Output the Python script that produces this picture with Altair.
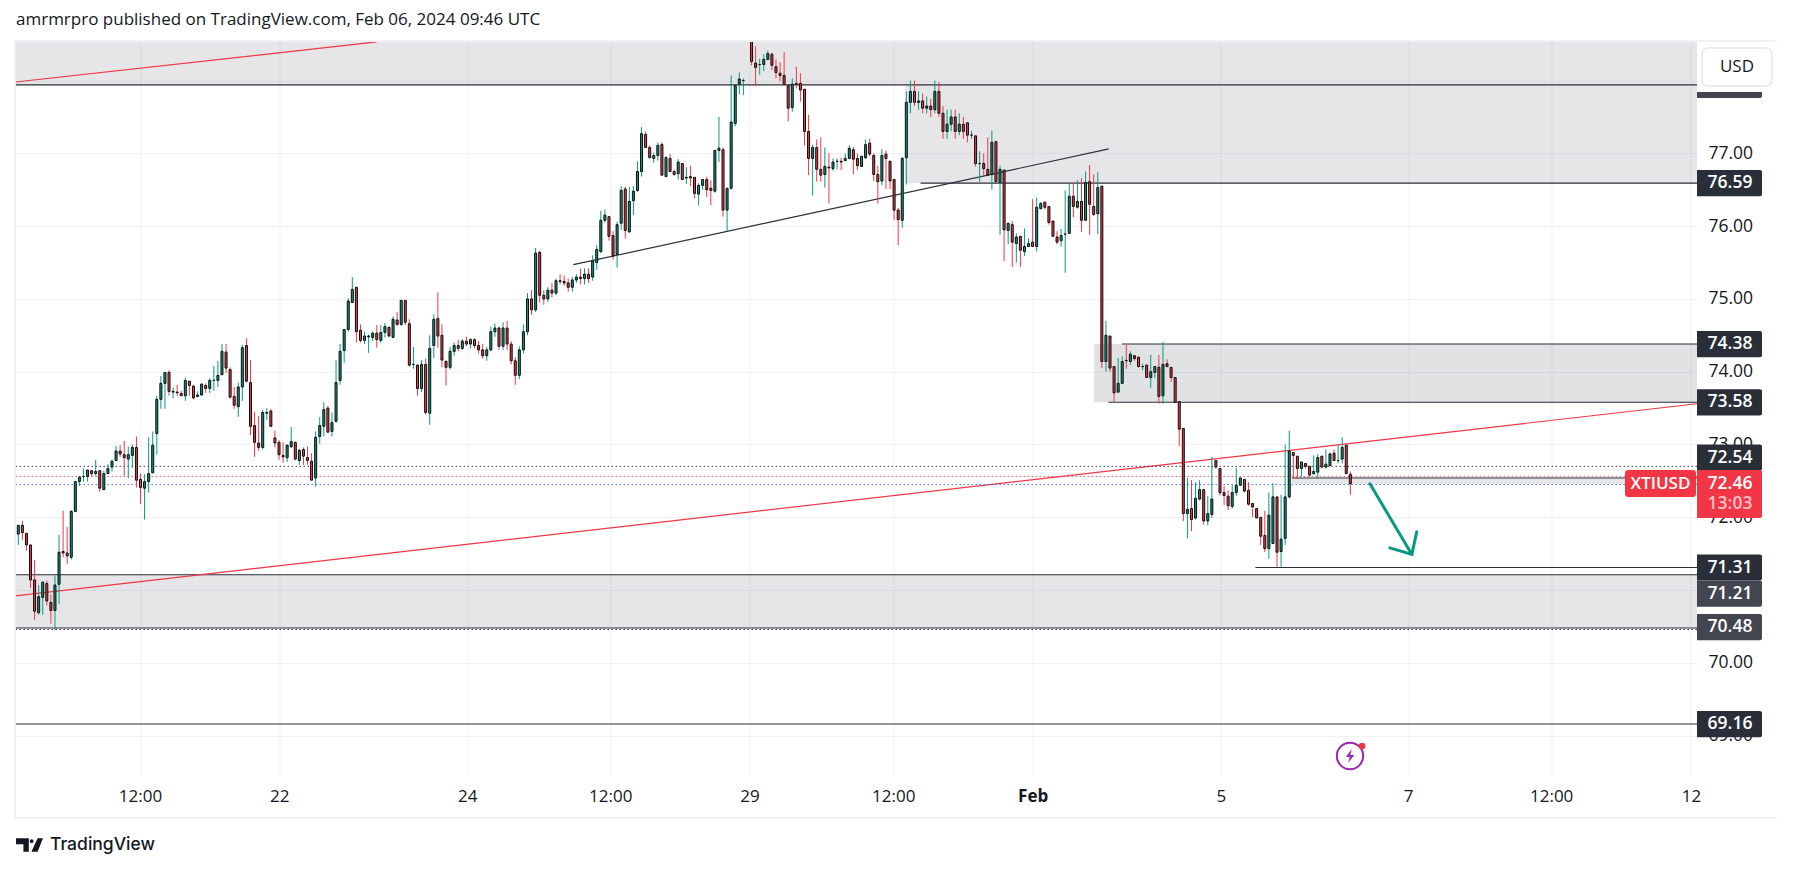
import altair as alt
import pandas as pd

opens = [71.77,71.89,71.78,71.62,71.14,70.69,70.90,71.09,70.83,70.72,71.08,71.53,71.51,71.45,72.08,72.49,72.56,72.56,72.64,72.60,
72.64,72.38,72.60,72.69,72.78,72.91,72.86,72.80,72.85,72.96,72.52,72.40,72.49,72.61,73.15,73.62,73.84,73.99,73.72,73.72,
73.70,73.67,73.87,73.80,73.66,73.68,73.81,73.77,73.88,73.88,73.96,74.27,74.03,73.66,73.52,73.79,74.36,73.85,73.26,73.02,
72.96,73.43,73.46,73.09,73.03,72.85,72.82,72.97,73.03,72.78,72.93,72.82,72.77,72.54,73.11,73.25,73.50,73.18,73.32,73.88,
74.29,74.58,74.95,75.16,74.57,74.43,74.48,74.47,74.53,74.43,74.54,74.61,74.47,74.71,74.65,74.98,74.66,74.10,74.09,73.77,
74.10,73.43,74.36,74.73,74.50,74.14,74.06,74.28,74.36,74.32,74.42,74.38,74.44,74.36,74.30,74.22,74.30,74.55,74.60,74.35,
74.60,74.38,74.15,73.95,74.30,74.55,75.00,74.85,75.64,75.05,75.00,75.12,75.08,75.25,75.24,75.22,75.16,75.26,75.30,75.28,
75.34,75.30,75.50,75.65,76.08,76.13,75.87,75.61,76.04,76.51,75.92,76.35,76.49,76.75,77.26,77.08,76.93,76.97,77.12,76.68,
76.93,76.75,76.72,76.86,76.66,76.68,76.67,76.44,76.56,76.64,76.52,76.48,77.04,77.05,76.22,76.52,77.41,77.95,78.00,78.60,
78.60,78.24,78.22,78.22,78.29,78.36,78.19,78.10,78.07,77.93,77.63,77.96,77.96,77.88,77.30,76.93,77.08,76.78,76.71,76.81,
76.79,76.89,76.89,76.90,76.93,77.05,76.93,76.82,76.94,77.14,76.97,76.71,76.62,76.99,76.89,76.64,76.22,76.08,76.94,77.70,
77.85,77.70,77.72,77.62,77.65,77.60,77.85,77.55,77.30,77.40,77.50,77.30,77.40,77.42,77.25,77.24,76.86,76.86,76.78,76.71,
77.16,76.60,76.77,75.94,76.02,75.76,75.86,75.65,75.72,75.78,75.72,76.24,76.33,76.27,76.07,75.85,75.80,75.89,75.90,76.41,
76.26,76.34,76.08,76.61,76.27,76.17,76.55,74.14,74.49,74.07,73.72,73.84,74.155,74.14,74.22,74.20,74.07,74.09,73.92,73.99,
74.06,73.67,74.11,74.06,73.92,73.59,73.22,72.05,72.12,71.99,72.25,72.38,71.95,72.04,72.78,72.67,72.34,72.29,72.15,72.34,
72.44,72.52,72.37,72.19,72.12,72.00,71.75,71.57,71.64,72.28,71.53,71.71,72.28,72.89,72.84,72.67,72.74,72.70,72.60,72.62,
72.84,72.69,72.71,72.88,72.78,72.80,72.99,72.59]
highs = [71.89,71.95,71.78,71.62,71.41,71.07,71.11,71.13,70.94,71.20,71.76,72.09,71.87,72.10,72.50,72.57,72.67,72.65,72.64,72.79,
72.64,72.64,72.73,72.79,72.98,72.99,73.05,72.97,73.00,73.11,72.60,72.59,73.10,73.18,73.67,73.94,73.99,74.02,73.78,73.82,
73.74,73.92,73.87,73.82,73.73,73.84,73.84,73.91,74.08,74.15,74.38,74.38,74.06,73.79,73.85,74.37,74.46,74.16,73.45,73.39,
73.48,73.50,73.49,73.19,73.06,73.03,73.00,73.24,73.04,72.94,72.96,72.97,72.88,73.18,73.38,73.58,73.53,73.44,74.16,74.38,
74.58,75.01,75.30,75.16,74.65,74.55,74.51,74.55,74.64,74.64,74.67,74.62,74.76,74.82,74.98,74.98,74.72,74.34,74.10,74.16,
74.18,74.50,74.79,75.09,74.65,74.16,74.34,74.40,74.44,74.45,74.48,74.46,74.46,74.42,74.38,74.34,74.62,74.66,74.62,74.68,
74.70,74.42,74.20,74.35,74.65,75.08,75.12,75.70,75.66,75.12,75.16,75.22,75.28,75.34,75.32,75.28,75.30,75.34,75.42,75.42,
75.42,75.60,75.74,76.21,76.23,76.13,75.93,76.06,76.55,76.54,76.54,76.55,76.89,77.36,77.30,77.11,77.01,77.15,77.15,76.96,
76.99,76.78,76.92,76.86,76.81,76.83,76.67,76.59,76.64,76.68,76.63,77.04,77.50,77.08,76.52,78.07,77.93,78.11,78.03,78.70,
78.70,78.47,78.30,78.36,78.41,78.38,78.29,78.25,78.39,77.93,78.03,78.19,78.10,77.88,77.53,77.12,77.19,77.22,77.08,77.00,
76.93,76.93,76.94,77.00,77.11,77.09,77.00,76.96,77.19,77.20,77.00,76.83,77.06,77.04,76.90,76.64,76.25,76.95,77.85,78.00,
78.00,77.85,77.82,77.78,77.75,78.00,77.98,77.65,77.60,77.60,77.60,77.55,77.50,77.28,77.31,76.93,77.03,77.00,77.22,77.31,
76.83,76.83,76.50,76.04,76.07,75.90,75.86,75.97,75.83,76.37,76.39,76.33,76.27,76.09,75.96,75.93,75.96,76.49,76.59,76.60,
76.63,76.66,76.75,76.84,76.71,76.74,75.78,74.70,74.15,73.95,74.19,74.21,74.37,74.28,74.22,74.10,74.11,74.10,74.23,74.07,
74.23,74.41,74.17,73.92,73.65,73.31,72.97,72.54,72.51,72.48,72.51,72.12,72.29,72.83,72.67,72.38,72.43,72.37,72.44,72.68,
72.54,72.37,72.48,72.12,72.00,71.90,72.09,72.34,72.47,71.70,72.31,73.00,73.19,72.88,72.78,72.76,72.70,72.66,72.85,72.87,
72.81,72.93,72.89,72.93,73.00,73.10,72.63,72.63]
lows = [71.62,71.69,71.54,71.03,70.59,70.66,70.66,70.79,70.54,70.45,70.81,71.45,71.36,71.42,72.07,72.43,72.49,72.49,72.56,72.57,
72.35,72.37,72.60,72.63,72.77,72.83,72.57,72.54,72.68,72.41,72.18,71.97,72.34,72.61,72.86,73.49,73.49,73.67,73.64,73.67,
73.67,73.60,73.67,73.62,73.66,73.67,73.71,73.71,73.74,73.79,73.95,73.98,73.63,73.49,73.38,73.60,73.85,73.13,72.83,72.91,
72.93,73.34,73.25,72.96,72.79,72.75,72.76,72.95,72.78,72.72,72.72,72.72,72.51,72.42,73.01,73.11,73.16,73.11,73.30,73.82,
74.12,74.55,74.95,74.40,74.40,74.38,74.26,74.42,74.33,74.40,74.47,74.48,74.46,74.63,74.63,74.64,74.07,74.04,73.67,73.72,
73.41,73.27,74.19,74.33,74.06,73.81,74.03,74.22,74.28,74.30,74.35,74.32,74.32,74.25,74.18,74.15,74.28,74.48,74.30,74.30,
74.30,74.10,73.82,73.90,74.25,74.50,74.78,74.82,74.95,74.92,74.96,75.02,75.05,75.20,75.18,75.10,75.10,75.22,75.20,75.20,
75.22,75.25,75.40,75.63,76.05,75.80,75.54,75.43,75.95,75.83,75.91,76.15,76.47,76.68,77.08,76.93,76.87,76.90,76.70,76.68,
76.75,76.69,76.64,76.64,76.58,76.55,76.38,76.28,76.50,76.40,76.29,76.46,76.88,76.13,75.93,76.50,77.37,77.81,77.80,78.55,
78.21,77.92,78.08,78.13,78.28,78.14,78.03,77.99,77.93,77.44,77.57,77.89,77.71,77.11,76.70,76.42,76.61,76.61,76.53,76.31,
76.76,76.78,76.77,76.90,76.92,76.71,76.77,76.81,76.92,76.96,76.62,76.31,76.56,76.51,76.51,76.08,75.74,75.98,76.57,77.55,
77.65,77.60,77.55,77.55,77.50,77.55,77.50,77.20,77.20,77.30,77.20,77.25,77.20,77.15,77.20,76.82,76.61,76.70,76.70,76.50,
76.61,75.88,75.52,75.75,75.44,75.50,75.44,75.59,75.72,75.72,75.65,76.23,76.23,76.02,75.86,75.75,75.72,75.36,75.90,76.12,
76.24,75.92,76.08,75.88,76.14,75.89,74.05,74.00,74.00,73.58,73.71,73.84,74.04,74.09,74.15,74.06,74.02,73.92,73.78,73.91,
73.56,73.56,74.07,73.86,73.58,72.98,71.95,71.71,71.81,71.97,72.23,71.90,71.89,71.99,72.69,72.30,72.17,72.10,72.12,72.29,
72.43,72.34,72.16,72.00,71.99,71.62,71.52,71.43,71.64,71.32,71.32,71.62,72.26,72.53,72.53,72.56,72.67,72.56,72.58,72.53,
72.67,72.67,72.70,72.77,72.74,72.74,72.60,72.31]
closes = [71.89,71.79,71.62,71.14,70.71,70.91,71.11,70.85,70.72,71.07,71.52,71.51,71.47,72.08,72.49,72.55,72.56,72.65,72.60,72.63,
72.40,72.60,72.67,72.77,72.91,72.87,72.82,72.86,72.96,72.51,72.41,72.49,72.60,72.99,73.62,73.84,73.99,73.73,73.73,73.71,
73.67,73.88,73.81,73.64,73.68,73.83,73.77,73.88,73.88,73.95,74.28,74.05,73.65,73.54,73.79,74.33,73.87,73.25,73.03,72.96,
73.44,73.44,73.25,73.02,72.86,72.83,72.99,73.04,72.80,72.92,72.84,72.78,72.51,73.10,73.26,73.48,73.17,73.30,73.85,74.28,
74.58,74.97,75.13,74.55,74.43,74.49,74.49,74.53,74.44,74.54,74.62,74.49,74.72,74.65,74.98,74.68,74.09,74.10,73.77,74.10,
73.44,74.32,74.72,74.49,74.16,74.06,74.28,74.36,74.32,74.42,74.38,74.44,74.36,74.30,74.22,74.30,74.55,74.60,74.35,74.60,
74.38,74.15,73.95,74.30,74.55,75.00,74.85,75.63,75.05,75.00,75.12,75.08,75.25,75.24,75.22,75.16,75.26,75.30,75.28,75.34,
75.28,75.52,75.68,76.08,76.15,75.86,75.59,76.02,76.49,75.94,76.34,76.48,76.75,77.27,77.08,76.94,76.97,77.11,76.70,76.94,
76.75,76.71,76.88,76.64,76.67,76.66,76.45,76.56,76.64,76.50,76.49,77.04,77.07,76.22,76.52,77.43,77.93,78.02,78.00,78.65,
78.26,78.18,78.22,78.29,78.37,78.21,78.11,78.07,77.95,77.62,77.95,77.95,77.87,77.30,76.93,77.08,76.78,76.70,76.82,76.80,
76.88,76.89,76.88,76.93,77.07,76.92,76.83,76.96,77.12,76.99,76.71,76.61,76.97,76.93,76.62,76.22,76.09,76.93,77.70,77.85,
77.70,77.72,77.62,77.65,77.60,77.85,77.55,77.30,77.40,77.50,77.30,77.40,77.30,77.25,77.25,76.86,76.86,76.79,76.70,77.15,
76.61,76.78,75.95,76.04,75.78,75.85,75.67,75.72,75.76,75.72,76.26,76.31,76.26,76.05,75.86,75.78,75.87,75.89,76.41,76.27,
76.34,76.08,76.60,76.30,76.16,76.53,74.14,74.50,74.05,73.71,73.84,74.14,74.15,74.24,74.18,74.07,74.07,73.92,74.00,74.07,
73.66,74.10,74.07,73.92,73.58,73.21,72.05,72.11,71.97,72.26,72.38,71.95,72.05,72.25,72.69,72.34,72.30,72.16,72.34,72.44,
72.54,72.36,72.18,72.14,71.99,71.74,71.57,72.03,72.28,71.52,71.70,72.28,72.91,72.85,72.67,72.76,72.70,72.58,72.63,72.82,
72.69,72.73,72.87,72.78,72.78,72.96,72.60,72.46]

N = min(len(opens), len(highs), len(lows), len(closes))

tick_pos = [29.88, 64.07, 110.2, 145.3, 179.5, 214.8, 249.0, 295.2, 341.2, 376.3, 410.6]
tick_txt = ["12:00", "22", "24", "12:00", "29", "12:00", "Feb", "5", "7", "12:00", "12"]
price_ticks = [69, 70, 71, 72, 73, 74, 75, 76, 77, 78]

X0, X1 = -0.687, 412.1
Y0, Y1 = 68.446, 78.543
W, H = 1681.5, 735
FONT = "Open Sans"
DARK = "#2a2e39"
MID = "#434651"
RED = "#f23645"
GREEN = "#089981"

xs = alt.Scale(domain=[X0, X1], nice=False, zero=False, padding=0)
ys = alt.Scale(domain=[Y0, Y1], nice=False, zero=False, padding=0)

candles = pd.DataFrame({
    "i": list(range(N)), "o": opens[:N], "h": highs[:N], "l": lows[:N], "c": closes[:N],
})
candles["dir"] = ["u" if c >= o else "d" for o, c in zip(candles.o, candles.c)]
cscale = alt.Scale(domain=["u", "d"], range=[GREEN, RED])

label_expr = "[" + ",".join(f"'{t}'" for t in tick_txt) + "][indexof([" + ",".join(str(v) for v in tick_pos) + "], datum.value)]"

base = alt.Chart(pd.DataFrame({"i": [X0], "p": [Y0]})).mark_point(opacity=0).encode(
    x=alt.X("i:Q", scale=xs, axis=alt.Axis(
        values=tick_pos, labelExpr=label_expr, title=None, domain=False, ticks=False,
        grid=True, gridColor="#f0f1f5", gridWidth=1, labelFont=FONT, labelFontSize=17,
        labelFontWeight=alt.condition("datum.value == 249", alt.value(700), alt.value(400)),
        labelColor="#131722", labelPadding=12, labelFlush=False, labelOverlap=False)),
    y=alt.Y("p:Q", scale=ys, axis=alt.Axis(
        orient="right", values=price_ticks, format=".2f", title=None, domain=False, ticks=False,
        grid=True, gridColor="#f0f1f5", gridWidth=1, labelFont=FONT, labelFontSize=17.5,
        labelColor="#131722", labelPadding=11, labelOverlap=False)),
)

zone_x1 = [X0, 217.7, 264.1, X0, 312.7]
zone_x2 = [X1] * 5
zone_p1 = [77.94, 76.59, 73.58, 70.48, 72.46]
zone_p2 = [Y1, 77.94, 74.38, 71.21, 72.54]
zone_op = [0.19, 0.19, 0.22, 0.19, 0.19]
zones = alt.Chart(pd.DataFrame({"a": zone_x1, "b": zone_x2, "p": zone_p1, "q": zone_p2, "op": zone_op})).mark_rect(
    color="#787b86", clip=True).encode(
    x=alt.X("a:Q", scale=xs), x2="b:Q", y=alt.Y("p:Q", scale=ys), y2="q:Q",
    opacity=alt.Opacity("op:Q", scale=None))

hl_x1 = [X0, 221.5, 270.9, 267.6, X0, X0, X0, 303.7, 312.7]
hl_p = [77.94, 76.59, 74.38, 73.58, 71.21, 70.48, 69.16, 71.31, 72.54]
hlines = alt.Chart(pd.DataFrame({"a": hl_x1, "b": [X1] * len(hl_x1), "p": hl_p})).mark_rule(
    color=DARK, strokeWidth=1.1, clip=True).encode(
    x=alt.X("a:Q", scale=xs), x2="b:Q", y=alt.Y("p:Q", scale=ys))

dot_p = [72.70, 72.56, 72.45, 70.46]
dot_c = ["#131722", RED, "#2962ff", "#131722"]
dots = alt.Chart(pd.DataFrame({"a": [X0] * 4, "b": [X1] * 4, "p": dot_p, "k": dot_c})).mark_rule(
    strokeWidth=1, strokeDash=[1.5, 2.5], opacity=0.85, clip=True).encode(
    x=alt.X("a:Q", scale=xs), x2="b:Q", y=alt.Y("p:Q", scale=ys),
    color=alt.Color("k:N", scale=None))

tr_x1 = [X0, X0, 136.25]
tr_p1 = [77.98, 70.92, 75.47]
tr_x2 = [88.0, X1, 267.7]
tr_p2 = [78.53, 73.56, 77.06]
tr_c = [RED, RED, DARK]
trends = alt.Chart(pd.DataFrame({"a": tr_x1, "b": tr_x2, "p": tr_p1, "q": tr_p2, "k": tr_c})).mark_rule(
    strokeWidth=1.2, clip=True).encode(
    x=alt.X("a:Q", scale=xs), x2="b:Q", y=alt.Y("p:Q", scale=ys), y2="q:Q",
    color=alt.Color("k:N", scale=None))

wicks = alt.Chart(candles).mark_rule(strokeWidth=1, clip=True).encode(
    x=alt.X("i:Q", scale=xs), y=alt.Y("l:Q", scale=ys), y2="h:Q",
    color=alt.Color("dir:N", scale=cscale, legend=None))
bodies = alt.Chart(candles).mark_bar(size=2, stroke="#0c0c0c", strokeWidth=1, clip=True).encode(
    x=alt.X("i:Q", scale=xs), y=alt.Y("o:Q", scale=ys), y2="c:Q",
    color=alt.Color("dir:N", scale=cscale, legend=None))

arr_x1 = [331.8, 342.1, 342.1]
arr_p1 = [72.46, 71.49, 71.49]
arr_x2 = [342.1, 343.3, 336.7]
arr_p2 = [71.49, 71.80, 71.58]
arrow = alt.Chart(pd.DataFrame({"a": arr_x1, "b": arr_x2, "p": arr_p1, "q": arr_p2})).mark_rule(
    color=GREEN, strokeWidth=3, strokeCap="round").encode(
    x=alt.X("a:Q", scale=xs), x2="b:Q", y=alt.Y("p:Q", scale=ys), y2="q:Q")

box_mid = [77.94, 76.59, 74.38, 73.58, 72.82, 71.31, 70.95, 70.49, 69.16]
box_txt = ["", "76.59", "74.38", "73.58", "72.54", "71.31", "71.21", "70.48", "69.16"]
box_col = [MID, DARK, DARK, DARK, DARK, DARK, MID, MID, DARK]
bdf = pd.DataFrame({"m": box_mid, "t": box_txt, "k": box_col})
bdf["p"] = bdf.m - 0.18
bdf["q"] = bdf.m + 0.18
boxes = alt.Chart(bdf).mark_rect(cornerRadiusTopRight=2, cornerRadiusBottomRight=2).encode(
    x=alt.value(W), x2=alt.value(W + 65), y=alt.Y("p:Q", scale=ys), y2="q:Q",
    color=alt.Color("k:N", scale=None))
box_text = alt.Chart(bdf).mark_text(font=FONT, fontSize=17.5, fontWeight=600, color="white").encode(
    x=alt.value(W + 33), y=alt.Y("m:Q", scale=ys), text="t:N")

last_df = pd.DataFrame({"p": [71.99], "q": [72.65], "t": ["72.46"], "m": [72.457], "u": ["13:03"], "n": [72.18]})
last_box = alt.Chart(last_df).mark_rect(color=RED, cornerRadiusBottomRight=2, cornerRadiusTopRight=2).encode(
    x=alt.value(W), x2=alt.value(W + 65), y=alt.Y("p:Q", scale=ys), y2="q:Q")
last_t1 = alt.Chart(last_df).mark_text(font=FONT, fontSize=17.5, fontWeight=600, color="white").encode(
    x=alt.value(W + 33), y=alt.Y("m:Q", scale=ys), text="t:N")
last_t2 = alt.Chart(last_df).mark_text(font=FONT, fontSize=17.5, fontWeight=600, color="#fbc3c8").encode(
    x=alt.value(W + 33), y=alt.Y("n:Q", scale=ys), text="u:N")
sym_df = pd.DataFrame({"p": [72.28], "q": [72.65], "m": [72.46], "t": ["XTIUSD"]})
sym_box = alt.Chart(sym_df).mark_rect(color=RED, cornerRadius=3).encode(
    x=alt.value(W - 72), x2=alt.value(W - 1), y=alt.Y("p:Q", scale=ys), y2="q:Q")
sym_text = alt.Chart(sym_df).mark_text(font=FONT, fontSize=17, fontWeight=600, color="white").encode(
    x=alt.value(W - 36.5), y=alt.Y("m:Q", scale=ys), text="t:N")

one = pd.DataFrame({"v": [0]})
mask = alt.Chart(one).mark_rect(color="white").encode(
    x=alt.value(W), x2=alt.value(W + 80), y=alt.value(0), y2=alt.value(51))
usd_box = alt.Chart(one).mark_rect(fill="white", stroke="#e6e8f0", strokeWidth=1.5, cornerRadius=6).encode(
    x=alt.value(W + 5), x2=alt.value(W + 75), y=alt.value(7), y2=alt.value(45))
usd_text = alt.Chart(pd.DataFrame({"t": ["USD"]})).mark_text(font=FONT, fontSize=17, color="#131722").encode(
    x=alt.value(W + 40), y=alt.value(26), text="t:N")
frame = alt.Chart(one).mark_rect(fill=None, stroke="#f0f1f7", strokeWidth=2).encode(
    x=alt.value(-0.5), x2=alt.value(1762.5), y=alt.value(0), y2=alt.value(777))
title = alt.Chart(pd.DataFrame({"t": ["amrmrpro published on TradingView.com, Feb 06, 2024 09:46 UTC"]})).mark_text(
    font=FONT, fontSize=17, color="#131722", align="left").encode(
    x=alt.value(0.5), y=alt.value(-21), text="t:N")
logo_text = alt.Chart(pd.DataFrame({"t": ["TradingView"]})).mark_text(
    font="Inter", fontSize=17.5, fontWeight=500, color="#131722", align="left").encode(
    x=alt.value(34.5), y=alt.value(804), text="t:N")
LOGO = "M-1,-0.5 H-0.05 V0.5 H-0.45 V-0.05 H-1 Z M0.02,-0.28 A0.14,0.14 0 1 1 0.3,-0.28 A0.14,0.14 0 1 1 0.02,-0.28 Z M0.6,-0.5 H1.0 L0.6,0.5 H0.14 Z"
logo = alt.Chart(one).mark_point(shape=LOGO, filled=True, color="#131722", size=729, opacity=1).encode(
    x=alt.value(14), y=alt.value(804))
BOLT = "M0.25,-1 L-0.6,0.15 L-0.05,0.15 L-0.25,1 L0.6,-0.15 L0.05,-0.15 Z"
ring = alt.Chart(one).mark_point(shape="circle", color="#9c27b0", size=700, strokeWidth=2, opacity=1).encode(
    x=alt.value(1334.5), y=alt.value(715))
bolt = alt.Chart(one).mark_point(shape=BOLT, filled=True, color="#9c27b0", size=200, opacity=1).encode(
    x=alt.value(1334.5), y=alt.value(715))
dot = alt.Chart(one).mark_point(shape="circle", filled=True, color=RED, size=45, opacity=1).encode(
    x=alt.value(1346.5), y=alt.value(705))

chart = alt.layer(
    base, zones, hlines, trends, dots, wicks, bodies, arrow,
    boxes, box_text, last_box, last_t1, last_t2, sym_box, sym_text,
    mask, usd_box, usd_text, frame, title, logo_text, logo, ring, bolt, dot,
).resolve_scale(color="independent").properties(
    width=W, height=H,
    autosize=alt.AutoSizeParams(type="none"),
    padding={"left": 7.5, "top": 33, "right": 80, "bottom": 79},
    background="white",
).configure_view(stroke=None)

chart.save("out.html", embed_options={"renderer": "svg", "actions": False})
